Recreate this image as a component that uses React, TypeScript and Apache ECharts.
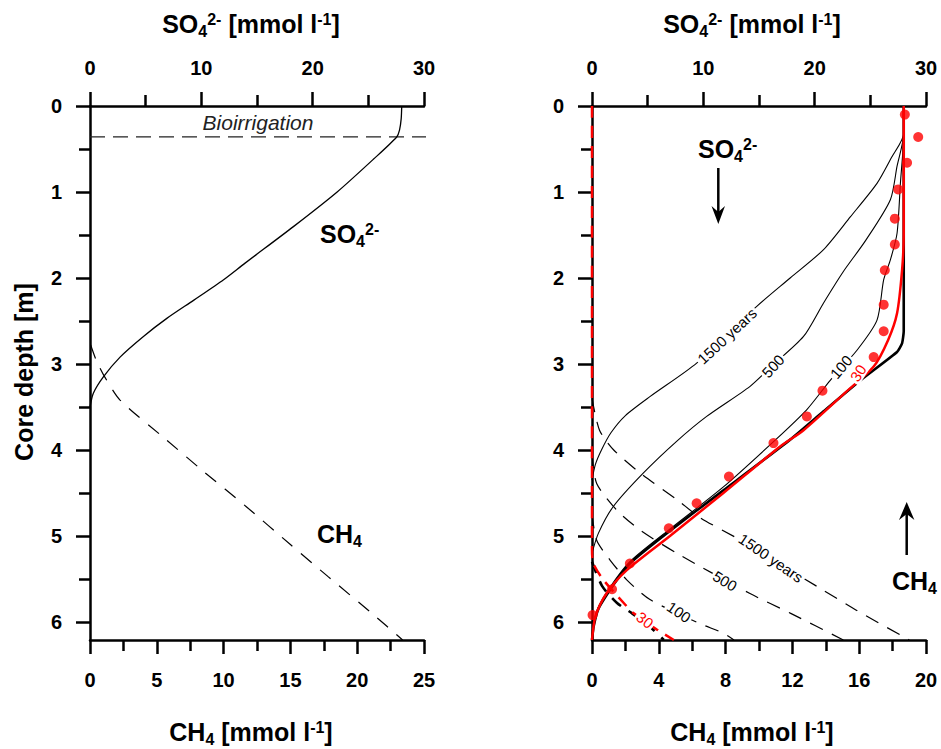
import React, { useEffect, useRef } from "react";
import * as echarts from "echarts";

const FONT = '"Liberation Sans", Arial, Helvetica, sans-serif';

// ---------- axis ticks ----------
const DEPTH_MAX = 6.21;
const depthLabels = [0, 1, 2, 3, 4, 5, 6];
const depthMinor = [0.5, 1.5, 2.5, 3.5, 4.5, 5.5];
const so4Labels = [0, 10, 20, 30];
const so4Minor = [5, 15, 25];
const ch4LeftLabels = [0, 5, 10, 15, 20, 25];
const ch4LeftMinor = [2.5, 7.5, 12.5, 17.5, 22.5];
const ch4RightLabels = [0, 4, 8, 12, 16, 20];
const ch4RightMinor = [2, 6, 10, 14, 18];

// ---------- left panel [value, depth] ----------
const bioirrigation = [[0, 0.36], [30.5, 0.36]];
const so4Left = [
  [28.0, 0], [27.95, 0.15], [27.8, 0.28], [27.55, 0.36], [25.45, 0.62], [22.2, 1.0],
  [18.3, 1.4], [13.9, 1.83], [12.0, 2.02], [9.3, 2.26], [6.9, 2.47], [4.8, 2.68],
  [2.7, 2.92], [1.2, 3.15], [0.3, 3.34], [0, 3.5],
];
const ch4Left = [
  [0.05, 2.78], [0.45, 2.95], [1.1, 3.15], [2.25, 3.42], [5.7, 3.88], [8.5, 4.25],
  [11.7, 4.66], [15.0, 5.1], [17.8, 5.47], [21.1, 5.9], [23.4, 6.21],
];

// ---------- right panel: SO4 (solid) ----------
const so4Steady = [
  [28, 0], [28, 2.62], [27.85, 2.76], [27.4, 2.86], [24.2, 3.18], [20.8, 3.55], [17.8, 3.88],
  [11.8, 4.47], [6.7, 4.97], [3.4, 5.32], [1.8, 5.59], [0.6, 5.84], [0.15, 6.05], [0, 6.21],
];
const so4Y30 = [
  [28, 0], [28, 1.5], [27.85, 1.91], [27.4, 2.41], [26.6, 2.72], [25.3, 3.03], [22.6, 3.35],
  [19.0, 3.77], [16.9, 3.96], [11.8, 4.5], [7.0, 5.0], [3.1, 5.4], [1.3, 5.67], [0.3, 5.94], [0, 6.21],
];
const so4Y100 = [
  [28, 0], [28, 0.32], [27.7, 0.9], [27.4, 1.48], [26.8, 1.79], [26.2, 2.02], [25.6, 2.49],
  [23.8, 2.84], [21.4, 3.19], [19.3, 3.53], [16.5, 3.88], [11.8, 4.43], [6.9, 4.93],
  [3.4, 5.3], [1.6, 5.6], [0.5, 5.85], [0, 6.15],
];
const so4Y500 = [
  [28, 0], [28, 0.32], [27.4, 0.7], [26.8, 1.09], [24.6, 1.56], [22.55, 1.93], [20.8, 2.29],
  [19.0, 2.68], [16.1, 3.03], [14.2, 3.26], [10.3, 3.61], [7.6, 3.9], [4.6, 4.27],
  [1.9, 4.66], [0.57, 4.97], [0, 5.2],
];
const so4Y1500 = [
  [28, 0], [28, 0.32], [26.9, 0.6], [25.6, 0.9], [23.2, 1.29], [20.8, 1.67], [17.8, 2.0],
  [14.8, 2.33], [9.4, 2.99], [5.2, 3.38], [3.0, 3.6], [1.7, 3.8], [0.85, 4.0], [0.3, 4.17], [0, 4.35],
];
const so4Measured = [
  [28.1, 0.1], [29.3, 0.36], [28.3, 0.66], [27.5, 0.97], [27.2, 1.31], [27.2, 1.61],
  [26.3, 1.91], [26.2, 2.31], [26.2, 2.62], [25.3, 2.92], [20.7, 3.31], [19.3, 3.61],
  [16.3, 3.92], [12.3, 4.31], [9.4, 4.62], [6.9, 4.91], [3.4, 5.32], [1.8, 5.62], [0.05, 5.92],
];

// ---------- right panel: CH4 (dashed) ----------
const ch4Y1500 = [
  [0, 3.4], [0.45, 3.77], [1.3, 4.0], [2.9, 4.27], [5.1, 4.58], [6.5, 4.79], [8.9, 5.05],
  [13.5, 5.59], [15.8, 5.86], [19.0, 6.21],
];
const ch4Y500 = [
  [0, 4.05], [0.28, 4.39], [1.48, 4.7], [2.87, 4.93], [5.07, 5.2], [9.46, 5.67], [11.9, 5.9], [15.05, 6.21],
];
const ch4Y100 = [
  [0, 4.75], [0.28, 5.05], [1.08, 5.28], [2.08, 5.51], [3.47, 5.74], [6.47, 6.02], [7.86, 6.13], [8.5, 6.21],
];
const ch4Steady = [[0, 5.3], [0.6, 5.58], [1.5, 5.78], [2.4, 5.9], [3.6, 6.08], [4.3, 6.21]];
const ch4Y30 = [
  [0, 0], [0, 5.15], [0.08, 5.32], [0.68, 5.51], [1.9, 5.78], [2.5, 5.9], [3.9, 6.09], [4.9, 6.21],
];

const RED = "#ff0000";

function xAxes(gridIndex: number, position: string, max: number, labels: number[], minor: number[], margin: number) {
  const common = { type: "value", gridIndex, position, min: 0, max, splitLine: { show: false } };
  return [
    {
      ...common,
      axisLine: { show: true, onZero: false, lineStyle: { color: "#000", width: 2.5 } },
      axisTick: { show: true, customValues: labels, length: 14, lineStyle: { color: "#000", width: 2.5 } },
      axisLabel: { show: true, customValues: labels, margin, color: "#000", fontSize: 20, fontWeight: "bold", fontFamily: FONT },
    },
    {
      ...common,
      axisLine: { show: false, onZero: false },
      axisTick: { show: true, customValues: minor, length: 11, lineStyle: { color: "#000", width: 2.5 } },
      axisLabel: { show: false },
    },
  ];
}

function yAxes(gridIndex: number) {
  const common = { type: "value", gridIndex, position: "left", inverse: true, min: 0, max: DEPTH_MAX, splitLine: { show: false } };
  return [
    {
      ...common,
      axisLine: { show: true, onZero: false, lineStyle: { color: "#000", width: 2.5 } },
      axisTick: { show: true, customValues: depthLabels, length: 14, lineStyle: { color: "#000", width: 2.5 } },
      axisLabel: { show: true, customValues: depthLabels, margin: 28, color: "#000", fontSize: 20, fontWeight: "bold", fontFamily: FONT },
    },
    {
      ...common,
      axisLine: { show: false, onZero: false },
      axisTick: { show: true, customValues: depthMinor, length: 11, lineStyle: { color: "#000", width: 2.5 } },
      axisLabel: { show: false },
    },
  ];
}

function line(data: number[][], xi: number, yi: number, color: string, width: number, type: any, z: number, smooth = 0.25) {
  return {
    type: "line", data, xAxisIndex: xi, yAxisIndex: yi, symbol: "none", showSymbol: false, clip: false,
    smooth, z, silent: true, lineStyle: { color, width, type }, emphasis: { disabled: true },
  };
}

const rich = (color: string, F = 25) => ({
  n: { fontSize: F, fontWeight: "bold", fontFamily: FONT, fill: color, lineHeight: 30, verticalAlign: "middle" },
  sub: { fontSize: 16, fontWeight: "bold", fontFamily: FONT, fill: color, lineHeight: 30, height: 16, verticalAlign: "bottom" },
  sup: { fontSize: 16, fontWeight: "bold", fontFamily: FONT, fill: color, lineHeight: 30, height: 20, verticalAlign: "top" },
});

function richText(text: string, x: number, y: number, align = "center", rotation = 0) {
  return {
    type: "text", x, y, rotation, z: 100,
    style: {
      text, rich: rich("#000"), align, verticalAlign: "middle", textAlign: align, textVerticalAlign: "middle",
      lineHeight: 30, fontSize: 25, fontWeight: "bold", fontFamily: FONT, fill: "#000",
    },
  };
}

function curveLabel(text: string, x: number, y: number, rotation: number, color = "#000") {
  return {
    type: "text", x, y, rotation, z: 100,
    style: {
      text, fontSize: 15, fontFamily: FONT, fill: color, align: "center", verticalAlign: "middle",
      textAlign: "center", textVerticalAlign: "middle", backgroundColor: "#fff", padding: [0, 2],
    },
  };
}

const SO4_TITLE = "{n|SO}{sub|4}{sup|2-}{n| [mmol l}{sup|-1}{n|]}";
const CH4_TITLE = "{n|CH}{sub|4}{n| [mmol l}{sup|-1}{n|]}";

export default function App() {
  const ref = useRef<HTMLDivElement>(null);
  useEffect(() => {
    const chart = echarts.init(ref.current as HTMLDivElement, null, { renderer: "svg" });
    const option: any = {
      animation: false,
      backgroundColor: "#fff",
      textStyle: { fontFamily: FONT },
      grid: [
        { left: 90, top: 106, width: 334, height: 534, containLabel: false, outerBoundsMode: "none" },
        { left: 592, top: 106, width: 334, height: 534, containLabel: false, outerBoundsMode: "none" },
      ],
      xAxis: [
        ...xAxes(0, "top", 30, so4Labels, so4Minor, 28),
        ...xAxes(0, "bottom", 25, ch4LeftLabels, ch4LeftMinor, 30),
        ...xAxes(1, "top", 30, so4Labels, so4Minor, 28),
        ...xAxes(1, "bottom", 20, ch4RightLabels, ch4RightMinor, 30),
      ],
      yAxis: [...yAxes(0), ...yAxes(1)],
      series: [
        // left panel
        line(bioirrigation, 0, 0, "#222", 1.2, [15, 8], 3, 0),
        line(so4Left, 0, 0, "#000", 1.3, "solid", 4, 0.25),
        line(ch4Left, 2, 0, "#000", 1.2, [14, 11], 4, 0.25),
        // right panel SO4
        line(so4Y1500, 4, 2, "#000", 1.1, "solid", 3),
        line(so4Y500, 4, 2, "#000", 1.1, "solid", 3),
        line(so4Y100, 4, 2, "#000", 1.1, "solid", 3),
        line(so4Steady, 4, 2, "#000", 2.6, "solid", 4, 0.15),
        line(so4Y30, 4, 2, RED, 2.5, "solid", 5),
        // right panel CH4
        line(ch4Y1500, 6, 2, "#000", 1.2, [14, 10], 3),
        line(ch4Y500, 6, 2, "#000", 1.2, [14, 10], 3),
        line(ch4Y100, 6, 2, "#000", 1.2, [14, 10], 3),
        line(ch4Steady, 6, 2, "#000", 2.6, [12, 9], 4),
        line(ch4Y30, 6, 2, RED, 2.5, [12, 8], 5),
        {
          type: "scatter", data: so4Measured, xAxisIndex: 4, yAxisIndex: 2, symbol: "circle", symbolSize: 10,
          itemStyle: { color: RED }, clip: false, z: 6, silent: true,
        },
      ],
      graphic: [
        richText(SO4_TITLE, 251, 24),
        richText(SO4_TITLE, 752, 24),
        richText(CH4_TITLE, 251, 732),
        richText(CH4_TITLE, 752, 732),
        {
          type: "text", x: 24, y: 372, rotation: Math.PI / 2, z: 100,
          style: {
            text: "Core depth [m]", fontSize: 25, fontWeight: "bold", fontFamily: FONT, fill: "#000",
            align: "center", verticalAlign: "middle", textAlign: "center", textVerticalAlign: "middle",
          },
        },
        {
          type: "text", x: 258, y: 122, z: 100,
          style: {
            text: "Bioirrigation", fontSize: 21, fontStyle: "italic", fontFamily: FONT, fill: "#222",
            align: "center", verticalAlign: "middle", textAlign: "center", textVerticalAlign: "middle",
          },
        },
        richText("{n|SO}{sub|4}{sup|2-}", 320, 234, "left"),
        richText("{n|CH}{sub|4}", 317, 534, "left"),
        richText("{n|SO}{sub|4}{sup|2-}", 698, 149, "left"),
        richText("{n|CH}{sub|4}", 892, 581, "left"),
        // arrows
        { type: "line", z: 100, shape: { x1: 718.3, y1: 168, x2: 718.3, y2: 214 }, style: { stroke: "#000", lineWidth: 2.5 } },
        { type: "polygon", z: 100, shape: { points: [[711.5, 206], [718.3, 224], [725, 206], [718.3, 212]] }, style: { fill: "#000" } },
        { type: "line", z: 100, shape: { x1: 906.7, y1: 555, x2: 906.7, y2: 512 }, style: { stroke: "#000", lineWidth: 2.5 } },
        { type: "polygon", z: 100, shape: { points: [[899, 520], [906.7, 502], [914.4, 520], [906.7, 514]] }, style: { fill: "#000" } },
        // curve labels (solid SO4)
        curveLabel("1500 years", 727, 336, 0.75),
        curveLabel("500", 773, 366, 0.82),
        curveLabel("100", 841, 367, 0.87),
        curveLabel("30", 858, 373, 1.0, RED),
        // curve labels (dashed CH4)
        curveLabel("1500 years", 771, 558, -0.6),
        curveLabel("500", 725, 581, -0.55),
        curveLabel("100", 679, 612, -0.6),
        curveLabel("30", 645, 620, -0.65, RED),
      ],
    };
    chart.setOption(option);
    return () => chart.dispose();
  }, []);
  return (
    <div
      ref={ref}
      style={{ position: "fixed", left: 0, top: 0, width: 941, height: 749, background: "#fff" }}
    />
  );
}
